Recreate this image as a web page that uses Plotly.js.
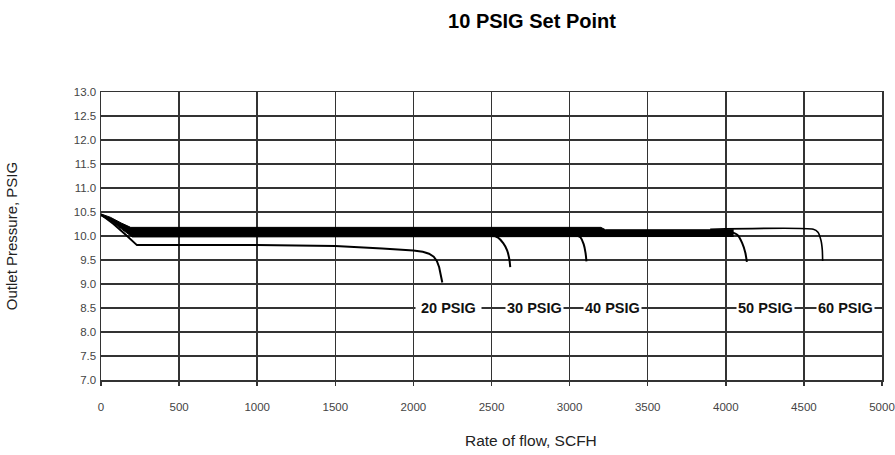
<!DOCTYPE html>
<html>
<head>
<meta charset="utf-8">
<script src="https://cdn.plot.ly/plotly-3.0.1.min.js"></script>
<style>html,body{margin:0;padding:0;background:#fff;}#chart{width:895px;height:455px;}</style>
</head>
<body>
<div id="chart"></div>
<script>
// Shared thick band (upper envelope / lower envelope)
const bandTopX = [0, 60, 130, 190, 3200, 3230, 4050];
const bandTopY = [10.46, 10.39, 10.27, 10.18, 10.18, 10.13, 10.13];
const bandBotX = [0, 60, 130, 200, 4050];
const bandBotY = [10.42, 10.32, 10.15, 9.98, 9.99];

// 20 PSIG curve
const p20X = [0, 80, 160, 230, 1000, 1500, 1800, 2000, 2060, 2100, 2130, 2150, 2165, 2175, 2185];
const p20Y = [10.45, 10.25, 10.02, 9.81, 9.81, 9.79, 9.74, 9.7, 9.67, 9.63, 9.57, 9.48, 9.35, 9.2, 9.03];
// 30 PSIG drop
const p30X = [2500, 2540, 2575, 2600, 2615, 2620];
const p30Y = [10.02, 9.97, 9.85, 9.7, 9.5, 9.35];
// 40 PSIG drop
const p40X = [3040, 3070, 3090, 3102, 3108];
const p40Y = [10.03, 9.97, 9.83, 9.65, 9.47];
// 50 PSIG drop
const p50X = [4040, 4075, 4105, 4125, 4135];
const p50Y = [10.08, 10.02, 9.85, 9.65, 9.46];
// 60 PSIG line
const p60X = [3900, 4560, 4590, 4610, 4618, 4620];
const p60Y = [10.14, 10.14, 10.08, 9.9, 9.7, 9.48];

const labelText = ["20 PSIG", "30 PSIG", "40 PSIG", "50 PSIG", "60 PSIG"];
const labelX = [2225, 2775, 3275, 4255, 4765];
const labelY = 8.5;

const xTicks = [0, 500, 1000, 1500, 2000, 2500, 3000, 3500, 4000, 4500, 5000];
const yTicks = [7.0, 7.5, 8.0, 8.5, 9.0, 9.5, 10.0, 10.5, 11.0, 11.5, 12.0, 12.5, 13.0];

const FONT = 'Arial, Liberation Sans, sans-serif';
const ln = (x, y, w, shape) => ({x: x, y: y, type: 'scatter', mode: 'lines',
  line: {color: '#000', width: w, shape: shape, smoothing: 0.6}, hoverinfo: 'skip', showlegend: false});

const traces = [
  {x: bandTopX, y: bandTopY, type: 'scatter', mode: 'lines', line: {color: '#000', width: 1}, showlegend: false, hoverinfo: 'skip'},
  {x: bandBotX, y: bandBotY, type: 'scatter', mode: 'lines', line: {color: '#000', width: 1}, fill: 'tonexty', fillcolor: '#000', showlegend: false, hoverinfo: 'skip'},
  ln(p20X, p20Y, 2, 'linear'),
  ln(p30X, p30Y, 2, 'spline'),
  ln(p40X, p40Y, 2, 'spline'),
  ln(p50X, p50Y, 2, 'spline'),
  ln(p60X, p60Y, 1.6, 'spline')
];

const annotations = labelText.map((t, i) => ({
  x: labelX[i], y: labelY, xref: 'x', yref: 'y', text: '<b>' + t + '</b>', showarrow: false,
  font: {family: FONT, size: 14.5, color: '#111'},
  bgcolor: '#fff', borderpad: 1, xanchor: 'center', yanchor: 'middle'
}));
annotations[0].text = '<b> 20 PSIG </b>';
annotations.push({
  x: (531 - 101) / 781, y: (380 - 440) / 288, xref: 'paper', yref: 'paper', text: 'Rate of flow, SCFH', showarrow: false,
  font: {family: FONT, size: 15.5, color: '#222'}, xanchor: 'center', yanchor: 'middle'
});

const layout = {
  width: 895, height: 455,
  margin: {l: 101, r: 13, t: 92, b: 75},
  paper_bgcolor: '#fff', plot_bgcolor: '#fff',
  title: {text: '<b>10 PSIG Set Point</b>', x: 532 / 895, xref: 'container', xanchor: 'center',
    y: 1 - 21 / 455, yref: 'container', yanchor: 'middle',
    font: {family: FONT, size: 20, color: '#000'}},
  xaxis: {range: [0, 5000], tickvals: xTicks, ticktext: xTicks.map(String), showgrid: true,
    gridcolor: '#333', gridwidth: 1.5, showline: true, linecolor: '#333', linewidth: 1.5, mirror: true,
    ticks: 'outside', ticklen: 4, tickcolor: '#333', tickwidth: 1.5, ticklabelstandoff: 12,
    ticklabeloverflow: 'allow', automargin: false,
    tickfont: {family: FONT, size: 11.5, color: '#444'}, zeroline: false, fixedrange: true},
  yaxis: {range: [7, 13], tickvals: yTicks, ticktext: yTicks.map(v => v.toFixed(1)), showgrid: true,
    gridcolor: '#333', gridwidth: 1.5, showline: true, linecolor: '#333', linewidth: 1.5, mirror: true,
    ticks: '', ticklabelstandoff: 1,
    tickfont: {family: FONT, size: 11.5, color: '#444'}, zeroline: false, fixedrange: true,
    title: {text: 'Outlet Pressure, PSIG', standoff: 52, font: {family: FONT, size: 15, color: '#222'}}},
  annotations: annotations,
  showlegend: false
};

Plotly.newPlot('chart', traces, layout, {displayModeBar: false, staticPlot: true});
</script>
</body>
</html>
